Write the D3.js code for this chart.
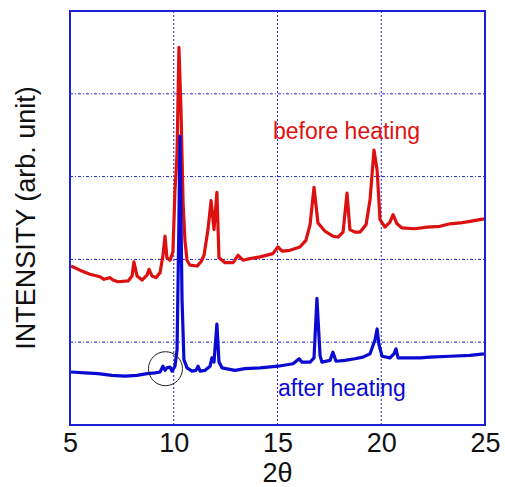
<!DOCTYPE html>
<html>
<head>
<meta charset="utf-8">
<script src="https://cdn.jsdelivr.net/npm/d3@7"></script>
<style>
  body { margin: 0; background: #fff; }
  svg { font-family: "Liberation Sans", Arial, sans-serif; }
</style>
</head>
<body>
<div id="chart"></div>
<script>
// x axis ticks (2 theta)
var xTicks = [5, 10, 15, 20, 25];
var yGrid = [1, 2, 3, 4];

// before heating (red) : 2theta / intensity (arb.)
var beforeX = [5.05, 5.48, 5.96, 6.45, 6.64, 6.93, 7.07, 7.31, 7.80, 7.99, 8.08, 8.23, 8.47, 8.71, 8.81, 8.95, 9.14, 9.34, 9.48, 9.58, 9.67, 9.82, 9.96, 10.06, 10.11, 10.16, 10.25, 10.35, 10.45, 10.54, 10.64, 10.78, 11.12, 11.31, 11.46, 11.65, 11.80, 11.94, 12.08, 12.18, 12.47, 12.86, 13.10, 13.34, 13.67, 14.16, 14.78, 15.02, 15.22, 15.60, 16.08, 16.37, 16.57, 16.76, 16.95, 17.29, 17.67, 17.92, 18.16, 18.35, 18.49, 18.73, 18.98, 19.27, 19.46, 19.65, 19.80, 19.94, 20.18, 20.42, 20.57, 20.76, 21.00, 21.63, 22.20, 22.83, 23.31, 23.80, 24.28, 24.95];
var beforeY = [1.92, 1.87, 1.82, 1.79, 1.76, 1.78, 1.75, 1.73, 1.74, 1.80, 1.97, 1.80, 1.75, 1.81, 1.88, 1.80, 1.78, 1.84, 2.05, 2.28, 2.02, 1.99, 2.09, 2.84, 3.04, 3.30, 4.56, 3.80, 2.68, 2.23, 1.99, 1.93, 1.92, 1.97, 2.05, 2.36, 2.71, 2.36, 2.81, 2.02, 1.96, 1.96, 2.05, 1.99, 2.01, 2.03, 2.07, 2.15, 2.10, 2.11, 2.15, 2.23, 2.42, 2.87, 2.44, 2.34, 2.28, 2.27, 2.33, 2.80, 2.36, 2.33, 2.33, 2.42, 2.72, 3.32, 3.08, 2.48, 2.39, 2.45, 2.54, 2.43, 2.38, 2.37, 2.39, 2.40, 2.43, 2.44, 2.46, 2.49];

// after heating (blue)
var afterX = [5.05, 5.72, 6.35, 7.02, 7.65, 8.23, 8.71, 9.10, 9.34, 9.48, 9.58, 9.67, 9.82, 9.92, 10.06, 10.16, 10.25, 10.30, 10.35, 10.40, 10.49, 10.64, 10.88, 11.07, 11.17, 11.27, 11.51, 11.75, 11.84, 11.94, 12.08, 12.18, 12.33, 12.95, 13.43, 14.16, 15.02, 15.75, 15.94, 16.04, 16.18, 16.57, 16.76, 16.90, 17.05, 17.14, 17.53, 17.67, 17.82, 18.25, 18.73, 19.12, 19.46, 19.70, 19.80, 19.89, 20.04, 20.42, 20.61, 20.71, 20.81, 21.39, 21.87, 22.35, 23.31, 24.28, 24.95];
var afterY = [0.64, 0.63, 0.62, 0.60, 0.59, 0.60, 0.62, 0.63, 0.64, 0.71, 0.66, 0.69, 0.70, 0.65, 0.71, 0.91, 2.48, 3.49, 2.48, 1.51, 0.79, 0.69, 0.65, 0.66, 0.71, 0.65, 0.66, 0.71, 0.81, 0.76, 1.22, 0.76, 0.69, 0.66, 0.68, 0.69, 0.71, 0.74, 0.78, 0.80, 0.76, 0.76, 0.81, 1.53, 0.84, 0.76, 0.78, 0.88, 0.77, 0.78, 0.80, 0.82, 0.86, 1.03, 1.16, 0.97, 0.83, 0.81, 0.86, 0.92, 0.81, 0.81, 0.81, 0.82, 0.83, 0.84, 0.86];

var w = 505, h = 487;
var pLeft = 70, pTop = 11, pRight = 485, pBottom = 425;

var svg = d3.select("#chart").append("svg")
  .attr("width", w)
  .attr("height", h);

var x = d3.scaleLinear().domain([5, 25]).range([pLeft, pRight]);
var y = d3.scaleLinear().domain([0, 5]).range([pBottom, pTop]);

var gridColor = "#1f1fd6";

// dotted grid
svg.selectAll(".vgrid")
  .data(xTicks.slice(1, -1))
  .enter().append("line")
  .attr("x1", function(d) { return x(d); })
  .attr("x2", function(d) { return x(d); })
  .attr("y1", pTop).attr("y2", pBottom)
  .attr("stroke", gridColor)
  .attr("stroke-width", 1)
  .attr("stroke-dasharray", "2,2");

svg.selectAll(".hgrid")
  .data(yGrid)
  .enter().append("line")
  .attr("x1", pLeft).attr("x2", pRight)
  .attr("y1", function(d) { return y(d); })
  .attr("y2", function(d) { return y(d); })
  .attr("stroke", gridColor)
  .attr("stroke-width", 1)
  .attr("stroke-dasharray", "3,2,1,2");

var line = d3.line()
  .x(function(d) { return x(d[0]); })
  .y(function(d) { return y(d[1]); });

var before = d3.zip(beforeX, beforeY);
var after = d3.zip(afterX, afterY);

svg.append("path")
  .datum(before)
  .attr("d", line)
  .attr("fill", "none")
  .attr("stroke", "#dd1010")
  .attr("stroke-width", 3.2)
  .attr("stroke-linejoin", "round");

svg.append("path")
  .datum(after)
  .attr("d", line)
  .attr("fill", "none")
  .attr("stroke", "#0a0ad2")
  .attr("stroke-width", 3.2)
  .attr("stroke-linejoin", "round");

// frame
svg.append("rect")
  .attr("x", pLeft).attr("y", pTop)
  .attr("width", pRight - pLeft).attr("height", pBottom - pTop)
  .attr("fill", "none")
  .attr("stroke", gridColor)
  .attr("stroke-width", 2);

// x tick labels
var xAxis = d3.axisBottom(x).tickValues(xTicks).tickSize(0);
var gx = svg.append("g")
  .attr("transform", "translate(0," + pBottom + ")")
  .call(xAxis);
gx.select(".domain").remove();
gx.selectAll("text")
  .attr("y", 27)
  .attr("dy", 0)
  .attr("font-size", 27)
  .attr("font-family", "Liberation Sans, Arial, sans-serif")
  .attr("fill", "#111");

svg.append("text")
  .attr("x", x(15))
  .attr("y", 482)
  .attr("text-anchor", "middle")
  .attr("font-size", 27)
  .attr("fill", "#111")
  .text("2θ");

svg.append("text")
  .attr("transform", "translate(35,218) rotate(-90)")
  .attr("text-anchor", "middle")
  .attr("font-size", 27)
  .attr("fill", "#111")
  .text("INTENSITY (arb. unit)");

// labels
svg.append("text")
  .attr("x", 273).attr("y", 139)
  .attr("font-size", 23)
  .attr("fill", "#e01010")
  .text("before heating");

svg.append("text")
  .attr("x", 278).attr("y", 396)
  .attr("font-size", 23)
  .attr("fill", "#0a0ad2")
  .text("after heating");

// circle marking the small peaks
svg.append("circle")
  .attr("cx", x(9.6)).attr("cy", y(0.68))
  .attr("r", 17)
  .attr("fill", "none")
  .attr("stroke", "#222")
  .attr("stroke-width", 1);
</script>
</body>
</html>
